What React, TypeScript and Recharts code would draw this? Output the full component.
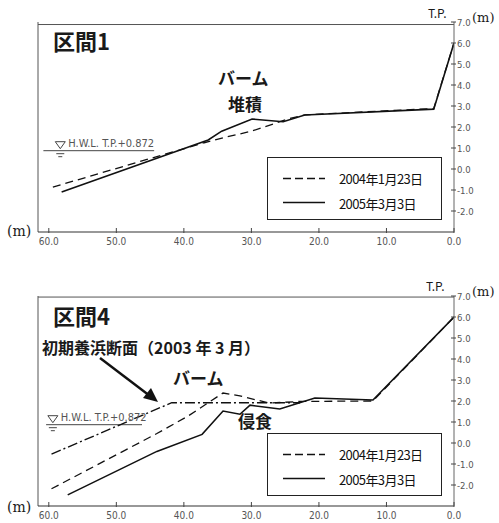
import React from 'react';
import {
  LineChart,
  Line,
  XAxis,
  YAxis,
  ReferenceLine,
  ReferenceDot,
  Legend,
} from 'recharts';

const TICK_FONT = '"Liberation Sans Narrow", "DejaVu Sans Condensed", sans-serif';
const JP_FONT = '"Noto Sans CJK JP", "Noto Sans", sans-serif';

const xTicks = [0, 10, 20, 30, 40, 50, 60];
const yTicks = [-2, -1, 0, 1, 2, 3, 4, 5, 6, 7];
const hwl = 0.872;
const hwlText = 'H.W.L. T.P.+0.872';

// 区間1
const sec1Dist2004 = [59.4, 37, 34, 30, 26.8, 24.5, 22, 3, 0];
const sec1Elev2004 = [-0.86, 1.25, 1.5, 1.8, 2.14, 2.4, 2.58, 2.88, 6.0];
const sec1Dist2005 = [58.1, 36.4, 34.4, 29.9, 25.3, 22.1, 3, 0];
const sec1Elev2005 = [-1.1, 1.38, 1.8, 2.38, 2.25, 2.57, 2.85, 6.0];

// 区間4
const sec4DistInit = [59.6, 41.8, 22.8];
const sec4ElevInit = [-0.53, 1.92, 1.92];
const sec4Dist2004 = [59.6, 44, 39.4, 34.2, 31.7, 27.3, 22.8, 12, 0];
const sec4Elev2004 = [-2.18, 0.45, 1.28, 2.38, 2.24, 1.9, 1.98, 2.0, 6.0];
const sec4Dist2005 = [57.2, 44, 37.3, 34.2, 31.7, 30.2, 25.8, 20.6, 12, 0];
const sec4Elev2005 = [-2.47, -0.4, 0.41, 1.52, 1.37, 1.8, 1.62, 2.14, 2.05, 6.0];

const legendItems = [
  { name: '2004年1月23日', dash: '8 4' },
  { name: '2005年3月3日', dash: '' },
];

const toProfile = (dist: number[], elev: number[]) =>
  dist.map((d, i) => ({ dist: d, elev: elev[i] }));

const DistTick = (props: any) => {
  const { x, y, payload } = props;
  return (
    <g>
      <line x1={x} x2={x} y1={y - 4} y2={y + 1} stroke="#444" />
      <text x={x} y={y + 13} textAnchor="middle" fontSize={10} fill="#555" fontFamily={TICK_FONT}>
        {payload.value.toFixed(1)}
      </text>
    </g>
  );
};

const ElevTick = (props: any) => {
  const { x, y, payload } = props;
  return (
    <g>
      <line x1={x - 3} x2={x + 2} y1={y} y2={y} stroke="#444" />
      <text x={x + 3} y={y + 3.5} fontSize={9.5} fill="#555" fontFamily={TICK_FONT}>
        {payload.value.toFixed(1)}
      </text>
    </g>
  );
};

// ▽ water level mark with the H.W.L. note beside it
const WaterMark = (props: any) => {
  const { cx, cy } = props;
  return (
    <g>
      <polygon
        points={`${cx - 5},${cy - 9} ${cx + 5},${cy - 9} ${cx},${cy - 2}`}
        fill="none"
        stroke="#444"
        strokeWidth={1}
      />
      <line x1={cx - 4} x2={cx + 4} y1={cy + 3} y2={cy + 3} stroke="#444" />
      <line x1={cx - 2} x2={cx + 2} y1={cy + 6} y2={cy + 6} stroke="#444" />
      <text x={cx + 8} y={cy - 4} fontSize={11} fill="#555" fontFamily={TICK_FONT}>
        {hwlText}
      </text>
    </g>
  );
};

const ProfileLegend = () => (
  <div
    style={{
      width: 175,
      height: 63,
      boxSizing: 'border-box',
      border: '1.5px solid #222',
      background: '#fff',
      position: 'relative',
    }}
  >
    {legendItems.map((item, i) => (
      <div
        key={item.name}
        style={{
          position: 'absolute',
          left: 15,
          top: 20 + i * 24.5,
          transform: 'translateY(-50%)',
          display: 'flex',
          alignItems: 'center',
        }}
      >
        <svg width={42} height={6}>
          <line x1={0} x2={42} y1={3} y2={3} stroke="#111" strokeWidth={1.6} strokeDasharray={item.dash || undefined} />
        </svg>
        <span
          style={{
            marginLeft: 14,
            fontFamily: JP_FONT,
            fontSize: 13,
            letterSpacing: -0.6,
            color: '#111',
            lineHeight: 1,
          }}
        >
          {item.name}
        </span>
      </div>
    ))}
  </div>
);

type Note = { text: string; left: number; cy: number; size: number; bold?: boolean; serif?: boolean };

const notes: Note[] = [
  { text: '区間1', left: 53, cy: 40, size: 22, bold: true },
  { text: 'バーム', left: 218, cy: 77, size: 17, bold: true },
  { text: '堆積', left: 228, cy: 103, size: 17, bold: true },
  { text: 'T.P.', left: 428, cy: 13, size: 12 },
  { text: '(m)', left: 472, cy: 17, size: 13, serif: true },
  { text: '(m)', left: 7, cy: 231, size: 14, serif: true },
  { text: '区間4', left: 53, cy: 315, size: 22, bold: true },
  { text: '初期養浜断面（2003 年 3 月）', left: 42, cy: 347, size: 16, bold: true },
  { text: 'バーム', left: 173, cy: 377, size: 17, bold: true },
  { text: '侵食', left: 238, cy: 420, size: 17, bold: true },
  { text: 'T.P.', left: 426, cy: 286, size: 12 },
  { text: '(m)', left: 472, cy: 291, size: 13, serif: true },
  { text: '(m)', left: 7, cy: 507, size: 14, serif: true },
];

type PanelProps = {
  top: number;
  height: number;
  marginTop: number;
  axisHeight: number;
  frameTop: number;
  legendTop: number;
  markDist: number;
  hwlFrom: number;
  hwlTo: number;
  initial?: { dist: number; elev: number }[];
  survey2004: { dist: number; elev: number }[];
  survey2005: { dist: number; elev: number }[];
};

const ProfilePanel: React.FC<PanelProps> = (p) => (
  <div style={{ position: 'absolute', left: 0, top: p.top }}>
    <LineChart
      width={499}
      height={p.height}
      margin={{ top: p.marginTop, right: 0, bottom: 0, left: 38 }}
    >
      <XAxis
        type="number"
        dataKey="dist"
        domain={[0, 61.6]}
        reversed
        allowDataOverflow
        ticks={xTicks}
        interval={0}
        tick={<DistTick />}
        tickSize={0}
        tickMargin={0}
        tickLine={false}
        height={p.axisHeight}
        axisLine={{ stroke: '#333', strokeWidth: 1.2 }}
      />
      <YAxis
        type="number"
        orientation="right"
        domain={[-3, 7]}
        allowDataOverflow
        ticks={yTicks}
        interval={0}
        tick={<ElevTick />}
        tickSize={0}
        tickMargin={0}
        tickLine={false}
        width={45}
        axisLine={{ stroke: '#666', strokeWidth: 1 }}
      />
      <ReferenceLine y={p.frameTop} stroke="#555" strokeWidth={1} />
      <ReferenceLine x={61.6} stroke="#555" strokeWidth={1} />
      <ReferenceLine
        segment={[
          { x: p.hwlFrom, y: hwl },
          { x: p.hwlTo, y: hwl },
        ]}
        stroke="#444"
        strokeWidth={1}
      />
      <ReferenceDot x={p.markDist} y={hwl} r={0} shape={<WaterMark />} />
      {p.initial && (
        <Line
          data={p.initial}
          dataKey="elev"
          type="linear"
          stroke="#111"
          strokeWidth={1.4}
          strokeDasharray="10 3 2 3"
          dot={false}
          legendType="none"
          isAnimationActive={false}
        />
      )}
      <Line
        data={p.survey2004}
        dataKey="elev"
        name="2004年1月23日"
        type="linear"
        stroke="#111"
        strokeWidth={1.3}
        strokeDasharray="8 5"
        dot={false}
        isAnimationActive={false}
      />
      <Line
        data={p.survey2005}
        dataKey="elev"
        name="2005年3月3日"
        type="linear"
        stroke="#111"
        strokeWidth={1.6}
        dot={false}
        isAnimationActive={false}
      />
      <Legend
        layout="horizontal"
        verticalAlign="middle"
        align="center"
        content={<ProfileLegend />}
        wrapperStyle={{ left: 267, top: p.legendTop, width: 175, height: 63 }}
      />
    </LineChart>
  </div>
);

export default function App() {
  return (
    <div
      style={{
        position: 'absolute',
        left: 0,
        top: 0,
        width: 499,
        height: 523,
        background: '#fff',
        overflow: 'hidden',
      }}
    >
      <ProfilePanel
        top={0}
        height={262}
        marginTop={22}
        axisHeight={30}
        frameTop={6.88}
        legendTop={157}
        markDist={58.3}
        hwlFrom={60.8}
        hwlTo={44.4}
        survey2004={toProfile(sec1Dist2004, sec1Elev2004)}
        survey2005={toProfile(sec1Dist2005, sec1Elev2005)}
      />
      <ProfilePanel
        top={262}
        height={261}
        marginTop={34}
        axisHeight={17}
        frameTop={6.95}
        legendTop={171}
        markDist={59.4}
        hwlFrom={60.4}
        hwlTo={46.2}
        initial={toProfile(sec4DistInit, sec4ElevInit)}
        survey2004={toProfile(sec4Dist2004, sec4Elev2004)}
        survey2005={toProfile(sec4Dist2005, sec4Elev2005)}
      />
      {notes.map((n, i) => (
        <span
          key={i}
          style={{
            position: 'absolute',
            left: n.left,
            top: n.cy,
            transform: 'translateY(-50%)',
            fontFamily: n.serif ? '"DejaVu Serif", "Liberation Serif", serif' : JP_FONT,
            fontSize: n.size,
            fontWeight: n.bold ? 700 : 400,
            color: '#1a1a1a',
            lineHeight: 1,
            whiteSpace: 'nowrap',
          }}
        >
          {n.text}
        </span>
      ))}
      {/* arrow pointing at the initial nourishment profile */}
      <svg
        width={499}
        height={523}
        style={{ position: 'absolute', left: 0, top: 0, pointerEvents: 'none' }}
      >
        <line x1={100} y1={358} x2={150} y2={396} stroke="#111" strokeWidth={2.4} />
        <polygon points="158,402 143,398 151,388" fill="#111" />
      </svg>
    </div>
  );
}
